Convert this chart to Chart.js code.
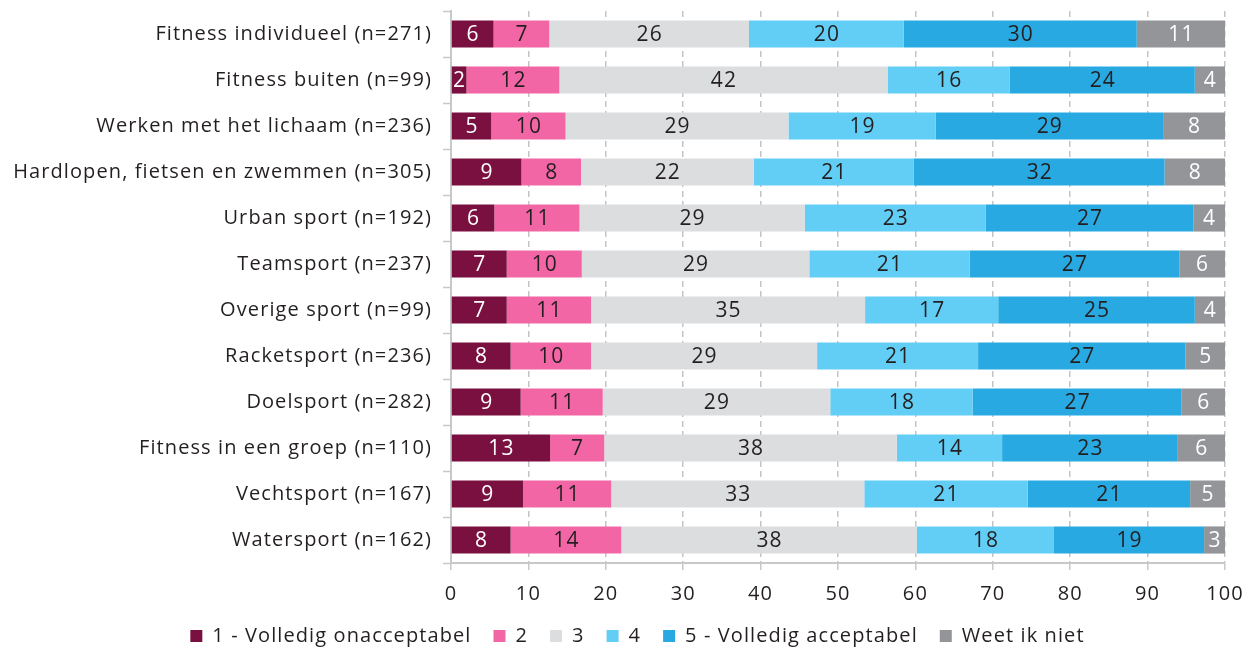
<!DOCTYPE html>
<html>
<head>
<meta charset="utf-8">
<script src="https://cdn.jsdelivr.net/npm/chart.js@4/dist/chart.umd.min.js"></script>
<style>
  html, body { margin: 0; padding: 0; background: #fff; }
  #wrap { width: 1247px; height: 648px; }
</style>
</head>
<body>
<div id="wrap"><canvas id="myChart" width="1247" height="648"></canvas></div>
<script>
// categories and values (percentages)
const categories = [
  'Fitness individueel (n=271)',
  'Fitness buiten (n=99)',
  'Werken met het lichaam (n=236)',
  'Hardlopen, fietsen en zwemmen (n=305)',
  'Urban sport (n=192)',
  'Teamsport (n=237)',
  'Overige sport (n=99)',
  'Racketsport (n=236)',
  'Doelsport (n=282)',
  'Fitness in een groep (n=110)',
  'Vechtsport (n=167)',
  'Watersport (n=162)'
];
const seriesNames = ['1 - Volledig onacceptabel', '2', '3', '4', '5 - Volledig acceptabel', 'Weet ik niet'];
const score1 = [5.5, 2.0, 5.2, 9.1, 5.6, 7.2, 7.2, 7.7, 9.0, 12.8, 9.3, 7.7];
const score2 = [7.2, 12.0, 9.6, 7.7, 11.0, 9.7, 10.9, 10.4, 10.6, 7.0, 11.4, 14.3];
const score3 = [25.8, 42.4, 28.8, 22.3, 29.1, 29.4, 35.4, 29.2, 29.4, 37.8, 32.7, 38.2];
const score4 = [20.0, 15.8, 19.0, 20.7, 23.4, 20.7, 17.2, 20.8, 18.4, 13.6, 21.1, 17.7];
const score5 = [30.1, 23.9, 29.4, 32.4, 26.8, 27.1, 25.4, 26.8, 27.0, 22.7, 21.0, 19.4];
const weetNiet = [11.4, 3.9, 8.0, 7.8, 4.1, 5.9, 3.9, 5.1, 5.6, 6.1, 4.5, 2.7];
const xTicks = [0, 10, 20, 30, 40, 50, 60, 70, 80, 90, 100];

const colors = ['#7a1040', '#f266a6', '#dcdddf', '#62cdf5', '#29a9e1', '#939598'];
const labelColors = ['#ffffff', '#231f20', '#231f20', '#231f20', '#231f20', '#ffffff'];
const FONT = "'Open Sans', 'Noto Sans', sans-serif";

// the original text is set with a bit of tracking
const spacing = {
  id: 'spacing',
  beforeLayout(chart) {
    chart.ctx.letterSpacing = '1.1px';
    // keep the legend strip a fixed height
    const lg = chart.legend;
    if (lg && !lg._fixed) {
      const fit = lg.fit;
      lg.fit = function() { fit.call(this); this.height = 44; };
      lg._fixed = true;
    }
  },
  afterLayout(chart) {
    // legend sits a little right of the canvas centre
    if (chart.legend) chart.legend.left = 50;
  },
  beforeDraw(chart) { chart.ctx.letterSpacing = '1.1px'; }
};

// draw the rounded value in the middle of each segment
const barLabels = {
  id: 'barLabels',
  afterDatasetsDraw(chart) {
    const ctx = chart.ctx;
    ctx.save();
    ctx.font = '21px ' + FONT;
    ctx.textAlign = 'center';
    ctx.textBaseline = 'middle';
    chart.data.datasets.forEach((ds, i) => {
      const meta = chart.getDatasetMeta(i);
      meta.data.forEach((bar, j) => {
        ctx.fillStyle = labelColors[i];
        ctx.fillText(Math.round(ds.data[j]), (bar.x + bar.base) / 2 + 0.5, bar.y + 1);
      });
    });
    ctx.restore();
  }
};

const allSeries = [score1, score2, score3, score4, score5, weetNiet];

const ctx = document.getElementById('myChart').getContext('2d');
const myChart = new Chart(ctx, {
  type: 'bar',
  data: {
    labels: categories,
    datasets: allSeries.map((d, i) => ({
      label: seriesNames[i],
      data: d,
      backgroundColor: colors[i],
      borderWidth: 0,
      categoryPercentage: 1,
      barPercentage: 0.59
    }))
  },
  options: {
    indexAxis: 'y',
    responsive: false,
    animation: false,
    layout: { padding: { top: 11, right: 22, bottom: 0, left: 0 } },
    scales: {
      x: {
        stacked: true,
        min: 0,
        max: 100,
        afterBuildTicks: (scale) => { scale.ticks = xTicks.map(v => ({ value: v })); },
        afterFit: (scale) => {
          scale.height = 41;
          scale.paddingLeft = 0;
          scale.paddingRight = 0;
        },
        grid: { color: '#c4c4c4', lineWidth: 1.5, tickLength: 7, tickColor: '#c8c8c8' },
        border: { display: true, color: '#c8c8c8', width: 2, dash: [6, 4] },
        ticks: { color: '#231f20', font: { size: 20, family: FONT }, padding: 12 }
      },
      y: {
        stacked: true,
        afterFit: (scale) => {
          scale.width = 451;
          scale.paddingTop = 0;
          scale.paddingBottom = 0;
        },
        grid: { drawOnChartArea: false, tickLength: 8, tickColor: '#c8c8c8', tickWidth: 1.5 },
        border: { display: true, color: '#c8c8c8', width: 2 },
        ticks: { color: '#231f20', font: { size: 20, family: FONT }, padding: 11 }
      }
    },
    plugins: {
      legend: {
        position: 'bottom',
        labels: {
          boxWidth: 12,
          boxHeight: 12,
          padding: 22,
          color: '#231f20',
          font: { size: 20, family: FONT }
        }
      },
      tooltip: { enabled: false }
    }
  },
  plugins: [spacing, barLabels]
});
</script>
</body>
</html>
